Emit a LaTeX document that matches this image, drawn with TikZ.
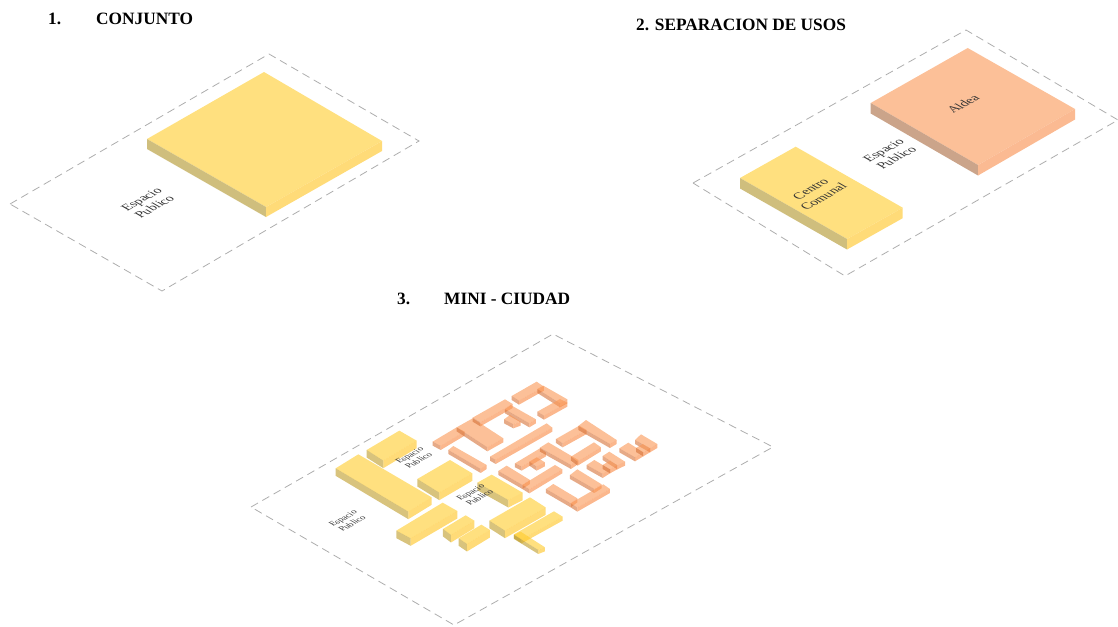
\documentclass[tikz,border=0pt]{standalone}
\usepackage{fontspec}
\setmainfont{Liberation Serif}
\definecolor{yT}{RGB}{255,224,127}
\definecolor{yL}{RGB}{207,190,125}
\definecolor{yR}{RGB}{255,219,120}
\definecolor{oT}{RGB}{252,192,152}
\definecolor{oL}{RGB}{203,164,138}
\definecolor{oR}{RGB}{251,186,146}
\definecolor{yTa}{RGB}{255,203,42}
\definecolor{yLa}{RGB}{190,155,38}
\definecolor{yRa}{RGB}{255,195,30}
\definecolor{oTa}{RGB}{250,150,83}
\definecolor{oLa}{RGB}{213,113,55}
\definecolor{oRa}{RGB}{248,135,65}
\newcommand{\solidbox}[6]{% corners L T R B as x,y pairs, height, colour prefix
  \fill[#6T] (#1) -- (#2) -- (#3) -- (#4) -- cycle;
  \fill[#6L] (#1) -- (#4) -- ([yshift=-#5pt]#4) -- ([yshift=-#5pt]#1) -- cycle;
  \fill[#6R] (#4) -- (#3) -- ([yshift=-#5pt]#3) -- ([yshift=-#5pt]#4) -- cycle;
}
\newcommand{\glassbox}[6]{%
  \begin{scope}[opacity=0.6]
  \fill[#6Ta] (#1) -- (#2) -- (#3) -- (#4) -- cycle;
  \fill[#6La] (#1) -- (#4) -- ([yshift=-#5pt]#4) -- ([yshift=-#5pt]#1) -- cycle;
  \fill[#6Ra] (#4) -- (#3) -- ([yshift=-#5pt]#3) -- ([yshift=-#5pt]#4) -- cycle;
  \end{scope}
}
\tikzset{
  lot/.style={draw=black!32,line width=0.8pt,dash pattern=on 8pt off 5pt},
  iso/.style={cm={0.866,0.5,-0.866,0.5,(0,0)},inner sep=0pt,align=center,text=black!80},
  title/.style={inner sep=0pt,anchor=west,font=\bfseries\fontsize{17.3}{20}\selectfont}
}
\begin{document}
\begin{tikzpicture}[x=1pt,y=-1pt]
\useasboundingbox (0,0) rectangle (1118,626);
% lots
\draw[lot] (10,204) -- (269,54) -- (419,141) -- (162,291) -- cycle;
\draw[lot] (693,183) -- (966,30) -- (1118,120) -- (845,276) -- cycle;
\draw[lot] (251,507) -- (553,334) -- (773,447) -- (454,625) -- cycle;
% big solids
\solidbox{147,139}{264,72}{382,141}{266,207}{10}{y}
\solidbox{870.7,103}{967.7,48}{1075,109}{978,165}{10.5}{o}
\solidbox{740,178}{795.7,146.7}{902.7,207.7}{847,239}{10.5}{y}
% mini-city yellow
\begin{scope}[shift={(320,370)},x=0.3333pt,y=-0.3333pt]
\glassbox{140,240}{238,182}{290,212}{190,272}{7.5}{y}
\glassbox{47,295}{115,253}{335,382}{265,425}{7.5}{y}
\glassbox{292,327}{390,270}{457,310}{358,368}{7.5}{y}
\glassbox{229,482}{368,398}{412,423}{272,505}{7.5}{y}
\glassbox{369,477}{437,436}{463,452}{393,495}{7.5}{y}
\glassbox{416,505}{484,464}{510,480}{441,522}{7.5}{y}
\end{scope}
\begin{scope}[shift={(380,470)},x=0.3333pt,y=-0.3333pt]
\glassbox{292,38}{335,14}{428,68}{385,90}{7.5}{y}
\glassbox{328,152}{450,82}{497,112}{375,182}{7.5}{y}
\glassbox{402,193}{522,124}{548,140}{425,208}{4}{y}
\glassbox{402,195}{422,185}{495,232}{475,240}{4}{y}
\end{scope}
% mini-city orange
\begin{scope}[shift={(430,370)},x=0.3333pt,y=-0.3333pt]
\glassbox{8,215}{80,172}{104,185}{32,228}{4}{o}
\glassbox{80,172}{128,145}{220,205}{172,232}{4}{o}
\glassbox{128,143}{225,88}{248,102}{151,157}{4}{o}
\glassbox{225,118}{242,105}{318,148}{298,160}{4}{o}
\glassbox{222,148}{240,135}{272,155}{250,163}{4}{o}
\glassbox{245,78}{320,35}{342,50}{267,92}{4}{o}
\glassbox{322,57}{340,47}{412,88}{390,100}{4}{o}
\glassbox{322,125}{390,87}{412,98}{342,137}{4}{o}
\glassbox{55,240}{70,228}{170,285}{152,297}{4}{o}
\glassbox{180,260}{350,160}{367,173}{197,270}{4}{o}
\glassbox{378,207}{448,167}{470,180}{398,220}{4}{o}
\glassbox{445,168}{468,150}{560,210}{540,222}{4}{o}
\glassbox{255,280}{330,235}{348,247}{275,290}{4}{o}
\glassbox{330,233}{355,217}{445,270}{423,285}{4}{o}
\glassbox{423,260}{492,217}{513,232}{443,275}{4}{o}
\glassbox{298,275}{320,262}{345,277}{320,290}{4}{o}
\glassbox{205,303}{230,287}{300,330}{277,345}{4}{o}
\glassbox{277,345}{375,285}{397,298}{298,358}{4}{o}
\glassbox{420,315}{442,298}{515,343}{493,357}{4}{o}
\glassbox{348,357}{370,342}{442,385}{422,400}{4}{o}
\glassbox{422,400}{520,343}{540,357}{442,413}{4}{o}
\end{scope}
\begin{scope}[shift={(560,420)},x=0.3333pt,y=-0.3333pt]
\glassbox{80,135}{103,120}{150,148}{128,162}{4}{o}
\glassbox{128,108}{148,95}{195,125}{172,136}{4}{o}
\glassbox{128,135}{150,122}{172,136}{150,148}{4}{o}
\glassbox{178,85}{205,68}{250,97}{225,112}{4}{o}
\glassbox{225,60}{243,43}{292,72}{270,85}{4}{o}
\glassbox{228,84}{248,72}{270,85}{250,97}{4}{o}
\end{scope}
% labels
\node[title] (t1) at (48,19) {1.};
\node[title] (t1b) at (96,19) {CONJUNTO};
\node[title] (t2) at (636,25) {2. SEPARACION DE USOS};
\node[title] (t3) at (397,299) {3.};
\node[title] (t3b) at (444,299) {MINI - CIUDAD};
\node[iso,font=\fontsize{13}{15}\selectfont] (ep1) at (148,203) {Espacio\\Publico};
\node[iso,font=\fontsize{13}{15}\selectfont] (ep2) at (890,154) {Espacio\\Publico};
\node[iso,font=\fontsize{13}{15}\selectfont] (cc) at (817,193) {Centro\\Comunal};
\node[iso,font=\fontsize{13}{15}\selectfont] (al) at (963,104) {Aldea};
\node[iso,font=\fontsize{9}{10.5}\selectfont] (ep3) at (347.5,521) {Espacio\\Publico};
\node[iso,font=\fontsize{9}{10.5}\selectfont] (ep4) at (414,458) {Espacio\\Publico};
\node[iso,font=\fontsize{9}{10.5}\selectfont] (ep5) at (475,495) {Espacio\\Publico};
\end{tikzpicture}
\end{document}
